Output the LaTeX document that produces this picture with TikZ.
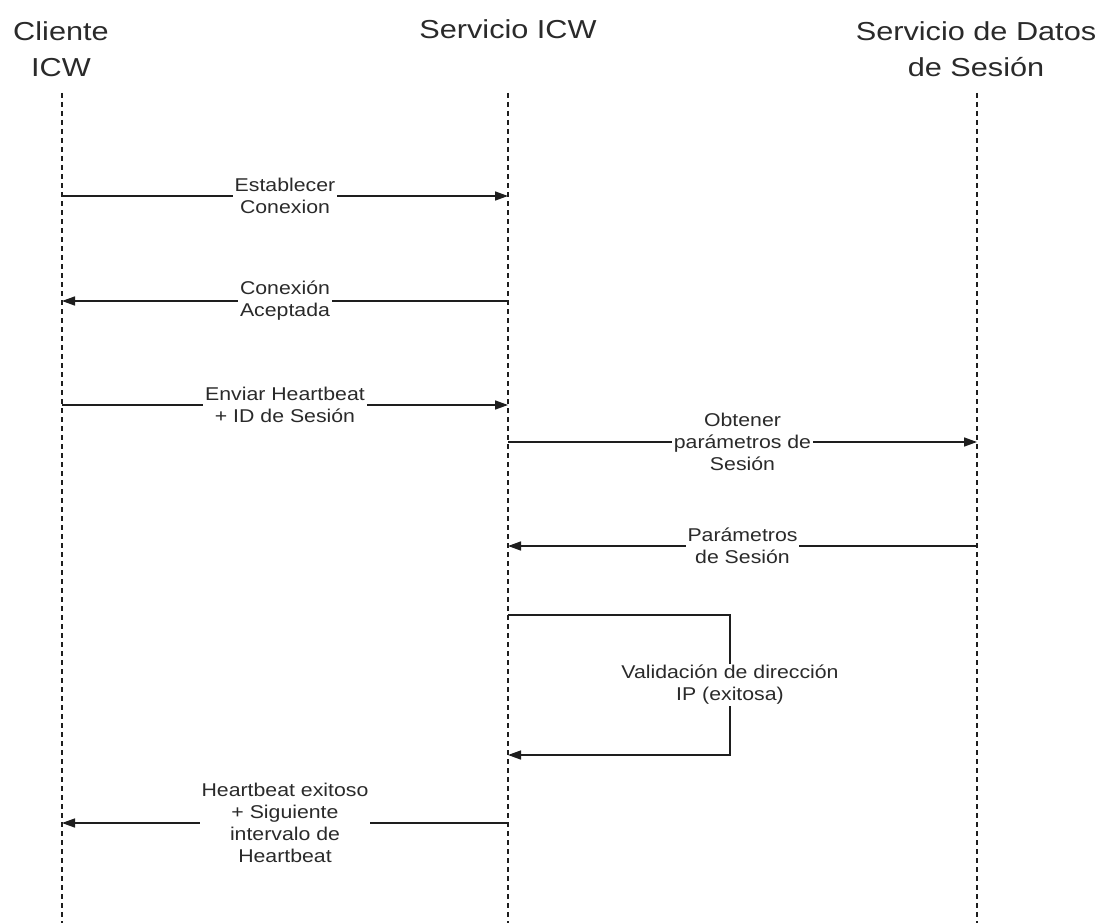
\documentclass[tikz,border=0pt]{standalone}
\usepackage{fontspec}
\setmainfont{Liberation Sans}[FakeStretch=1.15]
\newfontfamily\headfont{Liberation Sans}[FakeStretch=1.18]
\usetikzlibrary{arrows.meta}
\definecolor{ink}{HTML}{1E1E1E}
\definecolor{txt}{HTML}{2A2A2A}
\tikzset{
  head/.style={font=\headfont\fontsize{26pt}{36pt}\selectfont, text=txt, align=center, inner sep=0pt},
  lifeline/.style={draw=ink, line width=2.2pt, dash pattern=on 5pt off 4pt},
  msg/.style={draw=ink, line width=1.5pt, -{Triangle[length=13pt,width=9pt]}},
  lbl/.style={font=\fontsize{18.5pt}{22pt}\selectfont, text=txt, align=center, fill=white, inner xsep=2pt, inner ysep=1pt},
}
\begin{document}
\begin{tikzpicture}[x=1pt,y=-1pt]
  \fill[white] (0,0) rectangle (1103,923);
  \useasboundingbox (0,0) rectangle (1103,923);

  % participants
  \node[head] (cli) at (61,49) {Cliente\\ICW};
  \node[head, anchor=base] (srv) at (508,39) {Servicio ICW};
  \node[head] (dat) at (976,49) {Servicio de Datos\\de Sesión};

  % lifelines
  \coordinate (cliTop) at (62,93);   \coordinate (cliBot) at (62,923);
  \coordinate (srvTop) at (508,93);  \coordinate (srvBot) at (508,923);
  \coordinate (datTop) at (977,93);  \coordinate (datBot) at (977,923);
  \draw[lifeline] (cliTop) -- (cliBot);
  \draw[lifeline] (srvTop) -- (srvBot);
  \draw[lifeline] (datTop) -- (datBot);

  % message end points on the lifelines
  \coordinate (c1) at (62,196);  \coordinate (s1) at (508,196);
  \coordinate (c2) at (62,301);  \coordinate (s2) at (508,301);
  \coordinate (c3) at (62,405);  \coordinate (s3) at (508,405);
  \coordinate (s4) at (508,442); \coordinate (d4) at (977,442);
  \coordinate (s5) at (508,546); \coordinate (d5) at (977,546);
  \coordinate (s6a) at (508,615); \coordinate (s6b) at (508,755);
  \coordinate (k6a) at (730,615); \coordinate (k6b) at (730,755);
  \coordinate (c7) at (62,823);  \coordinate (s7) at (508,823);

  % messages
  \draw[msg] (c1) -- node[lbl] {Establecer\\Conexion} (s1);
  \draw[msg] (s2) -- node[lbl] {Conexión\\Aceptada} (c2);
  \draw[msg] (c3) -- node[lbl] {Enviar Heartbeat\\+ ID de Sesión} (s3);
  \draw[msg] (s4) -- node[lbl] {Obtener\\parámetros de\\Sesión} (d4);
  \draw[msg] (d5) -- node[lbl] {Parámetros\\de Sesión} (s5);
  \draw[msg] (s6a) -- (k6a) -- node[lbl] {Validación de dirección\\IP (exitosa)} (k6b) -- (s6b);
  \draw[msg] (s7) -- node[lbl] {Heartbeat exitoso\\+ Siguiente\\intervalo de\\Heartbeat} (c7);
\end{tikzpicture}
\end{document}
